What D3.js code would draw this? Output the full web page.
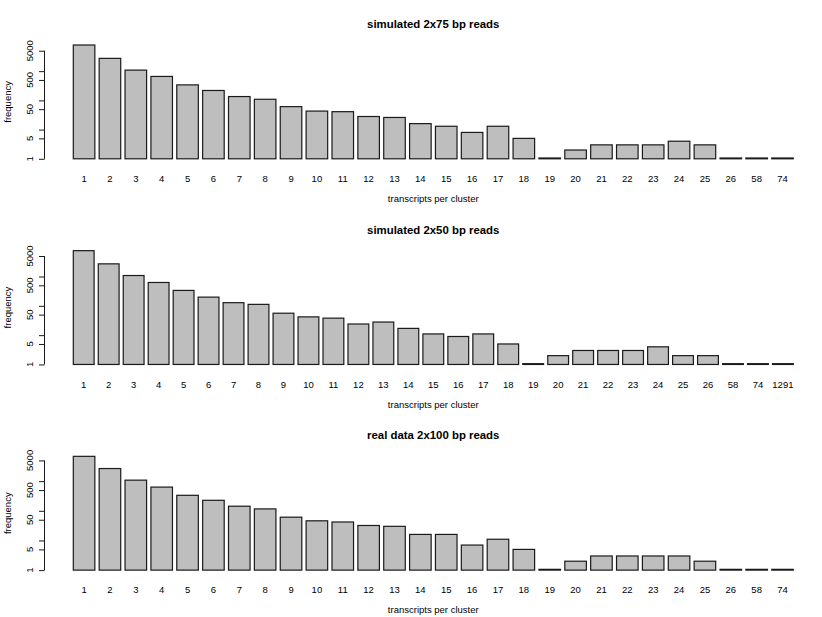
<!DOCTYPE html>
<html>
<head>
<meta charset="utf-8">
<script src="https://cdn.jsdelivr.net/npm/d3@7"></script>
<style>
  body { margin: 0; background: #fff; }
  text { font-family: "Liberation Sans", Arial, Helvetica, sans-serif; fill: #000; }
</style>
</head>
<body>
<svg id="chart"></svg>
<script>
// panel titles
var titles = ["simulated 2x75 bp reads", "simulated 2x50 bp reads", "real data 2x100 bp reads"];

// categories (transcripts per cluster)
var cats75 = ["1","2","3","4","5","6","7","8","9","10","11","12","13","14","15","16","17","18","19","20","21","22","23","24","25","26","58","74"];
var cats50 = ["1","2","3","4","5","6","7","8","9","10","11","12","13","14","15","16","17","18","19","20","21","22","23","24","25","26","58","74","1291"];
var cats100 = ["1","2","3","4","5","6","7","8","9","10","11","12","13","14","15","16","17","18","19","20","21","22","23","24","25","26","58","74"];

// frequencies
var freq75 = [7850, 2740, 1085, 659, 339, 218, 135, 109, 61, 43, 41, 28, 26, 16, 13, 8, 13, 5, 1, 2, 3, 3, 3, 4, 3, 1, 1, 1];
var freq50 = [7600, 2700, 1080, 625, 335, 198, 128, 112, 56, 42, 38, 24, 28, 17, 11, 9, 11, 5, 1, 2, 3, 3, 3, 4, 2, 2, 1, 1, 1];
var freq100 = [6860, 2660, 1080, 630, 333, 226, 143, 116, 61, 46, 42, 32, 30, 16, 16, 7, 11, 5, 1, 2, 3, 3, 3, 3, 2, 1, 1, 1];

// y axis ticks and labels
var yTicks = [1, 5, 10, 50, 100, 500, 1000, 5000];
var yLabels = [1, 5, 50, 500, 5000];

var panels = [
  { title: titles[0], cats: cats75, values: freq75 },
  { title: titles[1], cats: cats50, values: freq50 },
  { title: titles[2], cats: cats100, values: freq100 }
];

var W = 822, H = 617;
var panelH = H / 3;
var plotLeft = 44.5, plotRight = 822;
var barLeft = 73.3, barRight = 793.3;
var baseY = 158.8, topY = 45;

var svg = d3.select("#chart")
    .attr("width", W)
    .attr("height", H);

panels.forEach(function(p, i) {
  var g = svg.append("g")
      .attr("transform", "translate(0," + (i * panelH) + ")");

  // escalas
  var x = d3.scaleBand()
      .domain(p.cats)
      .range([barLeft, barRight])
      .paddingInner(0.2 / 1.2)
      .paddingOuter(0);

  var y = d3.scaleLog()
      .domain([1, d3.max(p.values)])
      .range([baseY, topY]);

  // barras (las de valor 1 quedan como una raya)
  g.selectAll(".bar")
      .data(p.values)
      .enter().append("rect")
      .attr("class", "bar")
      .attr("x", function(d, j) { return x(p.cats[j]); })
      .attr("y", function(d) { return Math.min(y(d), y(1) - 0.8); })
      .attr("width", x.bandwidth())
      .attr("height", function(d) { return Math.max(0.8, y(1) - y(d)); })
      .style("fill", "#bebebe")
      .style("stroke", "#1a1a1a")
      .style("stroke-width", 1.2);

  // eje y (ticks sin etiquetas, luego etiquetas aparte)
  var yAxis = d3.axisLeft(y)
      .tickValues(yTicks)
      .tickSize(5.5)
      .tickFormat("");

  var ya = g.append("g")
      .attr("class", "y axis")
      .attr("transform", "translate(" + plotLeft + ",0)")
      .call(yAxis);
  ya.select(".domain")
      .attr("d", "M0," + y(1) + "V" + y(5000));
  ya.selectAll("line").style("stroke", "#1a1a1a");
  ya.select(".domain").style("stroke", "#1a1a1a");

  g.selectAll(".ylab")
      .data(yLabels)
      .enter().append("text")
      .attr("class", "ylab")
      .attr("transform", function(d) { return "translate(33.3," + y(d) + ") rotate(-90)"; })
      .attr("text-anchor", "middle")
      .style("font-size", "9.5px")
      .text(function(d) { return d; });

  // etiquetas de categorías
  g.selectAll(".xlab")
      .data(p.cats)
      .enter().append("text")
      .attr("class", "xlab")
      .attr("x", function(d) { return x(d) + x.bandwidth() / 2; })
      .attr("y", 182)
      .attr("text-anchor", "middle")
      .style("font-size", "9.5px")
      .text(function(d) { return d; });

  // título
  g.append("text")
      .attr("x", (plotLeft + plotRight) / 2)
      .attr("y", 28)
      .attr("text-anchor", "middle")
      .style("font-size", "11.4px")
      .style("font-weight", "bold")
      .text(p.title);

  // etiquetas de los ejes
  g.append("text")
      .attr("x", (plotLeft + plotRight) / 2)
      .attr("y", 202)
      .attr("text-anchor", "middle")
      .style("font-size", "9.5px")
      .text("transcripts per cluster");

  g.append("text")
      .attr("transform", "translate(10.5," + ((baseY + topY) / 2) + ") rotate(-90)")
      .attr("text-anchor", "middle")
      .style("font-size", "9.5px")
      .text("frequency");
});
</script>
</body>
</html>
